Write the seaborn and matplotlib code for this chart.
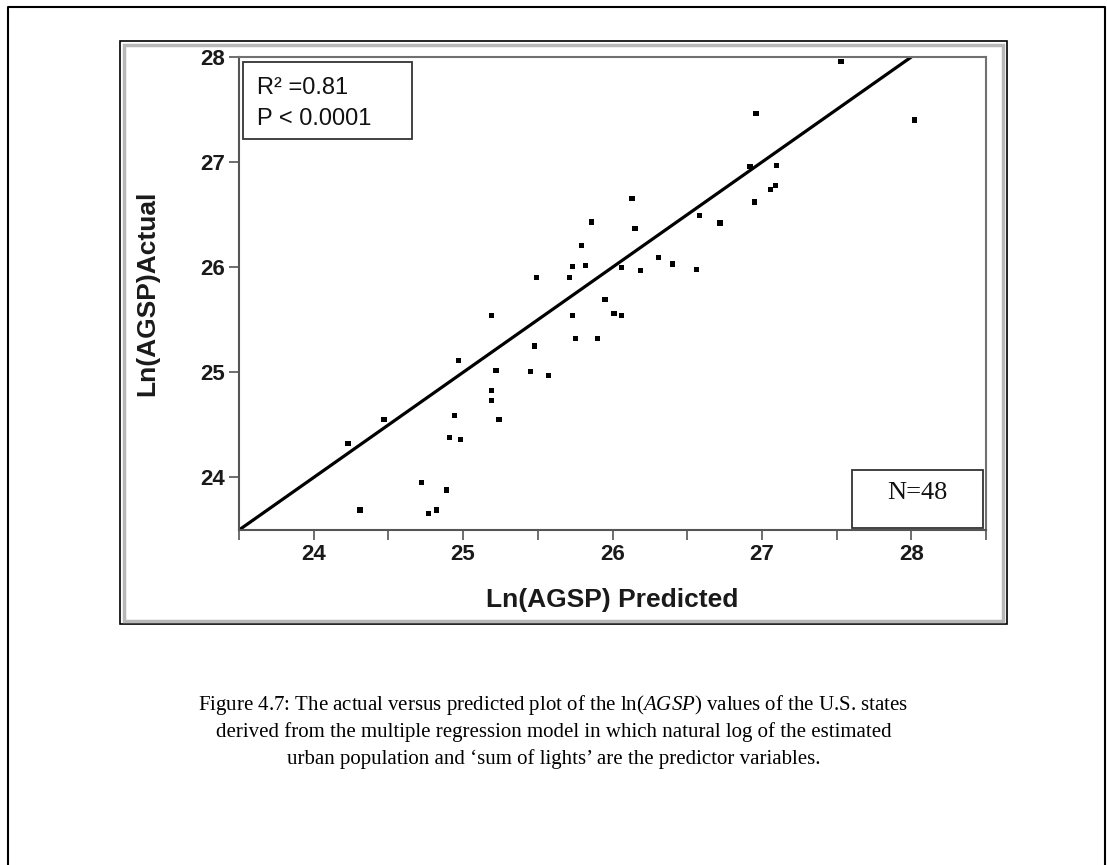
import matplotlib
matplotlib.use("Agg")
import matplotlib.pyplot as plt
import seaborn as sns
import numpy as np
from matplotlib.patches import Rectangle
from matplotlib.lines import Line2D
from matplotlib.ticker import MultipleLocator

# data
predicted = [25.86, 25.79, 25.73, 25.82, 25.49, 25.71, 27.53, 26.96, 28.02, 26.92,
             27.10, 27.09, 27.06, 26.95, 26.13, 26.15, 26.58, 26.72, 26.31, 26.40,
             26.56, 26.06, 26.19, 25.19, 25.73, 25.95, 25.75, 25.90, 25.48, 24.97,
             25.22, 25.45, 25.57, 25.19, 25.19, 24.47, 24.94, 25.24, 24.23, 24.91,
             24.98, 24.72, 24.89, 24.31, 24.77, 24.82, 26.01, 26.06]
actual = [26.43, 26.21, 26.01, 26.02, 25.90, 25.90, 27.96, 27.46, 27.40, 26.96,
          26.97, 26.78, 26.74, 26.62, 26.65, 26.37, 26.49, 26.42, 26.09, 26.03,
          25.98, 26.00, 25.97, 25.54, 25.54, 25.69, 25.32, 25.32, 25.25, 25.11,
          25.02, 25.01, 24.97, 24.83, 24.73, 24.55, 24.59, 24.55, 24.32, 24.38,
          24.36, 23.95, 23.88, 23.69, 23.66, 23.69, 25.56, 25.54]
# fitted line (actual = predicted)
fit_x = [23.5, 28.0]
fit_y = [23.5, 28.0]

xticks = [24, 25, 26, 27, 28]
yticks = [24, 25, 26, 27, 28]
stats_lines = ["R\u00b2 =0.81", "P < 0.0001"]
n_label = "N=48"
caption = ["Figure 4.7: The actual versus predicted plot of the ln($\\mathit{AGSP}$) values of the U.S. states",
           "derived from the multiple regression model in which natural log of the estimated",
           "urban population and \u2018sum of lights\u2019 are the predictor variables."]

sns.set_style("white")
plt.rcParams["font.family"] = ["Liberation Sans", "DejaVu Sans"]
plt.rcParams["mathtext.fontset"] = "custom"
plt.rcParams["mathtext.rm"] = "Liberation Serif"
plt.rcParams["mathtext.it"] = "Liberation Serif:italic"

W, H = 1107, 865
fig = plt.figure(figsize=(W / 100, H / 100), dpi=100)


def fx(px):
    return px / W


def fy(py):
    return 1 - py / H


# page border (open at the bottom) and figure frame
fig.add_artist(Line2D([fx(8), fx(8), fx(1105), fx(1105)], [fy(870), fy(7), fy(7), fy(870)],
                      transform=fig.transFigure, color="black", lw=1.5))
fig.patches.append(Rectangle((fx(120), fy(624)), fx(1006.5) - fx(120), fy(41) - fy(624),
                             transform=fig.transFigure, fill=False, ec="black", lw=1.2))
fig.patches.append(Rectangle((fx(123.5), fy(620.5)), fx(1003) - fx(123.5), fy(44.5) - fy(620.5),
                             transform=fig.transFigure, fill=False, ec="#b8b8b8", lw=2.5))

ax = fig.add_axes([fx(239), fy(530), fx(986) - fx(239), fy(57) - fy(530)])
sns.lineplot(x=fit_x, y=fit_y, color="black", lw=2.3, ax=ax)
sns.scatterplot(x=predicted, y=actual, marker="s", s=14, color="black",
                edgecolor="none", ax=ax)

ax.set_xlim(23.5, 28.5)
ax.set_ylim(23.5, 28.0)
ax.set_xticks(xticks)
ax.set_yticks(yticks)
ax.xaxis.set_minor_locator(MultipleLocator(0.5))
ax.tick_params(which="both", direction="out", length=7, width=1.2, color="#555555",
               bottom=True, left=True, top=False, right=False)
ax.tick_params(axis="y", which="minor", left=False)
ax.tick_params(axis="both", labelsize=16, pad=3, labelcolor="#1a1a1a")
for lab in ax.get_xticklabels() + ax.get_yticklabels():
    lab.set_fontweight("bold")
for side in ["left", "bottom", "top", "right"]:
    ax.spines[side].set_color("#555555")
    ax.spines[side].set_linewidth(1.5)
ax.spines["top"].set_color("#707070")
ax.spines["right"].set_color("#707070")

ax.set_xlabel("Ln(AGSP) Predicted", fontsize=19, fontweight="bold", color="#1a1a1a")
ax.set_ylabel("Ln(AGSP)Actual", fontsize=19, fontweight="bold", color="#1a1a1a")
ax.xaxis.label.set_va("center")
ax.yaxis.label.set_va("center")
ax.xaxis.set_label_coords((612.5 - 239) / 747, (530 - 600) / 473)
ax.yaxis.set_label_coords((147 - 239) / 747, 0.5)

# statistics box
fig.patches.append(Rectangle((fx(242.5), fy(139)), fx(412) - fx(242.5), fy(61.7) - fy(139),
                             transform=fig.transFigure, fill=True, fc="white", ec="#333333",
                             lw=1.3, zorder=5))
fig.text(fx(257), fy(94), stats_lines[0], fontsize=17, va="baseline", ha="left", color="#111111", zorder=6)
fig.text(fx(257), fy(125), stats_lines[1], fontsize=17, va="baseline", ha="left", color="#111111", zorder=6)

# N box
fig.patches.append(Rectangle((fx(851.7), fy(528)), fx(983.3) - fx(851.7), fy(470) - fy(528),
                             transform=fig.transFigure, fill=True, fc="white", ec="#333333",
                             lw=1.3, zorder=5))
fig.text(fx(917), fy(493), n_label, fontsize=19, family="Liberation Serif", va="center",
         ha="center", color="#111111", zorder=6)

# caption
for i, line in enumerate(caption):
    fig.text(fx(553.5), fy(705 + 27 * i), line, fontsize=15, family="Liberation Serif",
             va="center", ha="center", color="black")

fig.savefig("out.png", dpi=100)
